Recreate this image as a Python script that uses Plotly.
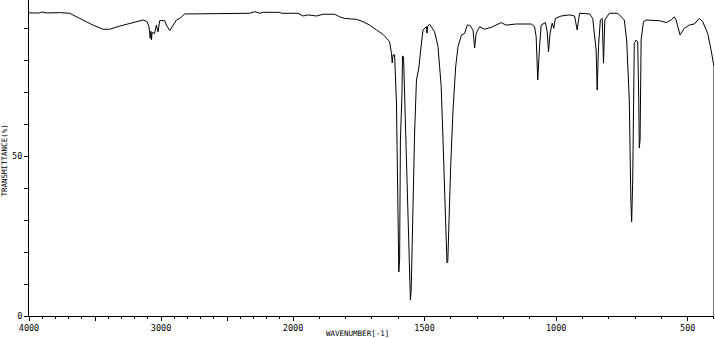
import plotly.graph_objects as go

# Wavenumber (cm-1) and transmittance (%)
wavenumber = [
    4000, 3919, 3904, 3866, 3767, 3692, 3616, 3515, 3439, 3389, 3313, 3212, 3136,
    3106, 3091, 3082, 3077, 3072, 3068, 3049, 3035, 3023, 3010, 2972, 2959, 2934,
    2909, 2883, 2858, 2820, 2758, 2505, 2330, 2290, 2252, 2227, 2101, 2088, 2000,
    1981, 1962, 1943, 1911, 1886, 1842, 1823, 1804, 1759, 1734, 1709, 1683, 1658,
    1639, 1633, 1626, 1623, 1620, 1614, 1607, 1601, 1598, 1595, 1592, 1586, 1584,
    1580, 1572, 1563, 1557, 1554, 1551, 1547, 1538, 1531, 1522, 1512, 1506, 1493,
    1491, 1488, 1481, 1462, 1449, 1443, 1437, 1430, 1423, 1415, 1412, 1409, 1401,
    1392, 1382, 1373, 1360, 1348, 1338, 1329, 1316, 1310, 1304, 1291, 1272, 1241,
    1209, 1190, 1152, 1095, 1082, 1076, 1070, 1063, 1057, 1041, 1034, 1029, 1023,
    1015, 1009, 1003, 981, 949, 930, 920, 911, 873, 861, 848, 844, 839, 832, 825,
    820, 815, 798, 766, 741, 732, 722, 716, 713, 709, 706, 703, 696, 690, 686, 684,
    681, 677, 668, 658, 608, 582, 563, 551, 544, 529, 513, 494, 475, 456, 443, 424,
    411, 400,
]
transmittance = [
    94.7, 94.7, 95.0, 94.7, 94.8, 94.6, 93.0, 90.9, 89.6, 89.6, 90.6, 91.7, 92.5,
    92.0, 90.4, 86.8, 89.0, 86.3, 88.6, 88.3, 90.9, 88.8, 92.3, 92.3, 90.9, 89.2,
    90.9, 92.5, 93.0, 94.4, 94.4, 94.6, 94.6, 95.1, 94.6, 94.9, 94.9, 94.6, 94.6,
    94.6, 93.75, 94.1, 93.75, 94.3, 94.3, 93.5, 93.0, 92.7, 92.0, 90.9, 89.4, 88.0,
    86.25, 85.7, 82.1, 79.1, 81.6, 81.6, 66.6, 30.9, 13.75, 17.5, 55.0, 69.7, 81.25,
    81.0, 55.0, 31.0, 11.25, 5.0, 8.1, 25.9, 57.2, 73.75, 77.5, 85.3, 89.4, 90.4,
    88.4, 90.6, 91.2, 88.8, 84.2, 77.9, 71.7, 55.0, 36.25, 16.6, 16.9, 25.9, 46.6,
    64.4, 77.9, 84.2, 87.8, 88.3, 90.9, 90.9, 89.4, 83.75, 88.3, 90.4, 89.6, 90.4,
    91.7, 90.9, 91.25, 91.25, 90.4, 87.3, 73.75, 84.2, 90.9, 91.7, 88.8, 82.6, 88.4,
    91.5, 89.9, 93.0, 93.75, 94.1, 93.75, 89.4, 94.6, 94.4, 93.0, 83.1, 70.6, 84.2,
    92.5, 93.0, 79.0, 92.5, 94.6, 94.6, 92.5, 86.25, 67.5, 36.25, 29.4, 42.5, 80.0,
    85.2, 86.25, 85.7, 67.5, 52.5, 55.0, 86.25, 92.0, 92.5, 92.3, 91.7, 92.5, 93.5,
    92.5, 87.8, 89.9, 90.9, 91.25, 93.0, 92.0, 88.3, 83.1, 77.9,
]

x_hi_ticks = [4000, 3500, 3000, 2500, 2000]
x_hi_text = ["4000", "", "3000", "", "2000"]
x_lo_ticks = [1500, 1000, 500]
x_lo_text = ["1500", "1000", "500"]
y_ticks = [0, 10, 20, 30, 40, 50, 60, 70, 80, 90]
y_text = ["0", "", "", "", "", "50", "", "", "", ""]

hi = [(w, t) for w, t in zip(wavenumber, transmittance) if w >= 2000]
lo = [(w, t) for w, t in zip(wavenumber, transmittance) if w <= 2000]

FONT = "DejaVu Sans Mono"
line = dict(color="black", width=1)

fig = go.Figure()
fig.add_trace(go.Scatter(x=[p[0] for p in hi], y=[p[1] for p in hi], mode="lines",
                         line=line, xaxis="x", yaxis="y", showlegend=False,
                         hoverinfo="skip"))
fig.add_trace(go.Scatter(x=[p[0] for p in lo], y=[p[1] for p in lo], mode="lines",
                         line=line, xaxis="x2", yaxis="y", showlegend=False,
                         hoverinfo="skip"))

split = 0.3855
common_x = dict(showline=True, linecolor="black", linewidth=1, showgrid=False,
                zeroline=False, ticks="outside", ticklen=4, tickwidth=1,
                automargin=False,
                tickcolor="black", tickfont=dict(family=FONT, size=8.5, color="black"),
                minor=dict(tickmode="linear", tick0=0, dtick=100, ticks="outside",
                           ticklen=2, tickcolor="black", showgrid=False))

fig.update_layout(
    template="none",
    width=715, height=338,
    margin=dict(l=29, r=1, t=0, b=22, autoexpand=False),
    paper_bgcolor="white", plot_bgcolor="white",
    xaxis=dict(domain=[0, split], range=[4000, 2000], anchor="y",
               tickmode="array", tickvals=x_hi_ticks, ticktext=x_hi_text, **common_x),
    xaxis2=dict(domain=[split, 1], range=[2000, 400], anchor="y",
                tickmode="array", tickvals=x_lo_ticks, ticktext=x_lo_text, **common_x),
    yaxis=dict(range=[0, 98.75], anchor="x", showline=True, linecolor="black",
               linewidth=1, showgrid=False, zeroline=False, ticks="outside",
               automargin=False,
               ticklen=4, tickcolor="black", tickmode="array", tickvals=y_ticks,
               ticktext=y_text, tickfont=dict(family=FONT, size=8.5, color="black")),
    annotations=[
        dict(text="WAVENUMBER[-1]", xref="paper", yref="paper", x=0.479, y=-0.054,
             xanchor="center", yanchor="middle", showarrow=False,
             font=dict(family=FONT, size=7.5, color="black")),
        dict(text="TRANSMITTANCE(%)", xref="paper", yref="paper", x=-0.035, y=0.492,
             xanchor="center", yanchor="middle", textangle=-90, showarrow=False,
             font=dict(family=FONT, size=7.5, color="black")),
    ],
    shapes=[dict(type="line", xref="x2", yref="y", x0=400, x1=400, y0=0,
                 y1=transmittance[-1], line=dict(color="black", width=1))],
)

fig.write_html(
    "out.html",
    config={"displayModeBar": False},
    post_script="document.body.style.margin='0';document.body.style.padding='0';"
                "document.body.style.overflow='hidden';",
)
